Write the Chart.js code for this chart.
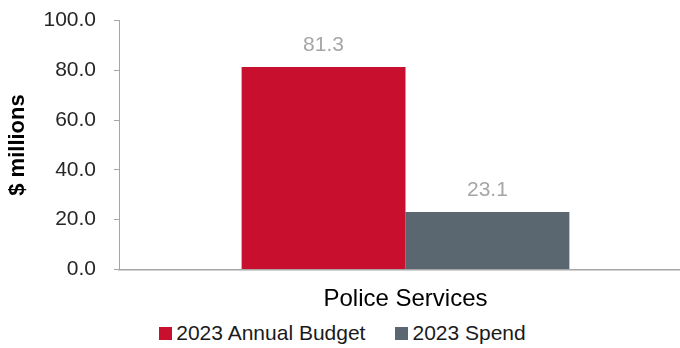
<!DOCTYPE html>
<html>
<head>
<meta charset="utf-8">
<script src="https://cdn.jsdelivr.net/npm/chart.js@4"></script>
<style>
  html, body { margin: 0; padding: 0; background: #fff; overflow: hidden; width: 680px; }
  #wrap { width: 692px; height: 318px; }
  #legend {
    width: 680px; height: 30px; box-sizing: border-box; padding-left: 5px;
    display: flex; justify-content: center; align-items: center;
    font: 21px "Liberation Sans", Arial, sans-serif; color: #1a1a1a;
  }
  #legend .item { display: flex; align-items: center; margin: 0 15px; white-space: nowrap; }
  #legend .box { width: 13px; height: 13px; margin-right: 4px; }
</style>
</head>
<body>
<div id="wrap"><canvas id="budgetChart"></canvas></div>
<div id="legend"></div>
<script>
const categories = ['Police Services'];
const budget = [81.3];
const spend = [23.1];
const yTicks = [0, 20, 40, 60, 80, 100];

const FONT = '"Liberation Sans", Arial, sans-serif';

// value labels above each bar
const barValues = {
  id: 'barValues',
  afterDatasetsDraw(chart) {
    const ctx = chart.ctx;
    ctx.save();
    ctx.font = '21px ' + FONT;
    ctx.fillStyle = '#a6a6a6';
    ctx.textAlign = 'center';
    ctx.textBaseline = 'middle';
    chart.data.datasets.forEach((ds, i) => {
      chart.getDatasetMeta(i).data.forEach((bar, j) => {
        ctx.fillText(ds.data[j].toFixed(1), bar.x, bar.y - 22);
      });
    });
    ctx.restore();
  }
};

// legend rendered as html under the canvas
const htmlLegend = {
  id: 'htmlLegend',
  afterUpdate(chart) {
    const box = document.getElementById('legend');
    box.innerHTML = '';
    const items = chart.options.plugins.legend.labels.generateLabels(chart);
    items.forEach(item => {
      const el = document.createElement('span');
      el.className = 'item';
      const swatch = document.createElement('span');
      swatch.className = 'box';
      swatch.style.background = item.fillStyle;
      el.appendChild(swatch);
      el.appendChild(document.createTextNode(item.text));
      box.appendChild(el);
    });
  }
};

const ctx = document.getElementById('budgetChart').getContext('2d');
new Chart(ctx, {
  type: 'bar',
  data: {
    labels: categories,
    datasets: [{
      label: '2023 Annual Budget',
      data: budget,
      backgroundColor: '#c8102e',
      barPercentage: 1.0,
      categoryPercentage: 0.572
    }, {
      label: '2023 Spend',
      data: spend,
      backgroundColor: '#5b6770',
      barPercentage: 1.0,
      categoryPercentage: 0.572
    }]
  },
  options: {
    responsive: true,
    maintainAspectRatio: false,
    animation: false,
    layout: { padding: 0 },
    plugins: {
      tooltip: { enabled: false },
      legend: { display: false }
    },
    scales: {
      x: {
        afterFit(scale) {
          scale.height = 48.5;
        },
        grid: { display: false },
        border: { display: true, color: '#a6a6a6', width: 1.5 },
        ticks: {
          color: '#000',
          padding: 7.5,
          font: { family: FONT, size: 24 }
        }
      },
      y: {
        min: yTicks[0],
        max: yTicks[yTicks.length - 1],
        afterBuildTicks(scale) {
          scale.ticks = yTicks.map(v => ({ value: v }));
        },
        // fixed axis width and top inset
        afterFit(scale) {
          scale.width = 119;
          scale.paddingTop = 20.5;
        },
        grid: {
          drawOnChartArea: false,
          drawTicks: true,
          tickLength: 5,
          color: '#a6a6a6'
        },
        border: { display: true, color: '#a6a6a6', width: 1 },
        ticks: {
          color: '#262626',
          padding: 18,
          font: { family: FONT, size: 21 },
          callback: v => v.toFixed(1)
        },
        title: {
          display: true,
          text: '$ millions',
          color: '#000',
          padding: { top: 5, bottom: 0 },
          font: { family: FONT, size: 22, weight: 'bold' }
        }
      }
    }
  },
  plugins: [barValues, htmlLegend]
});
</script>
</body>
</html>
